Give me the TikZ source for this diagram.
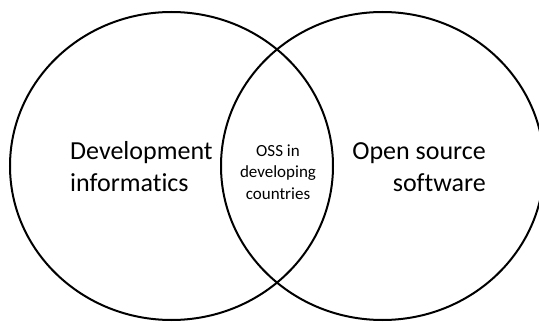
\documentclass[tikz,border=0pt]{standalone}
\usepackage{fontspec}
\setmainfont{Carlito}[Ligatures=CommonOff]
\usetikzlibrary{shapes.geometric, positioning}

\begin{document}
\begin{tikzpicture}[x=1pt,y=1pt,node distance=211pt,on grid,
    field/.style={ellipse,draw,line width=2pt,minimum width=323pt,minimum height=308pt},
    bigtext/.style={inner sep=0pt,font=\fontsize{26}{32}\selectfont},
    smalltext/.style={inner sep=0pt,align=center,font=\fontsize{17}{21.5}\selectfont}]
        \useasboundingbox (0,0) rectangle (539,322);
        \clip (0,0) rectangle (539,322);
        \node[field] (dev) at (171.5,156) {};
        \node[field] (oss) [right=of dev] {};
        \node[bigtext,anchor=west,align=left] (devtext) at (70,155) {Development\\informatics};
        \node[bigtext,anchor=east,align=right] (osstext) at (486,155) {Open source\\software};
        \node[smalltext] (both) at (278,150) {OSS in\\developing\\countries};
      \end{tikzpicture}
\end{document}
